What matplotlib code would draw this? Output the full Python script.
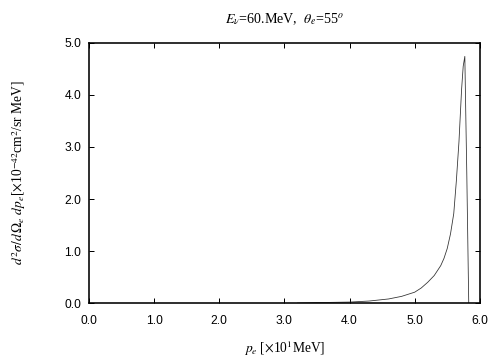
import numpy as np
import matplotlib
matplotlib.use("Agg")
import matplotlib.pyplot as plt

plt.rcParams['mathtext.fontset'] = 'stix'

# electron momentum [x10 MeV] and cross section [x10^-42 cm^2/sr MeV]
p_e = [3.2, 3.5, 4.0, 4.3, 4.6, 4.8, 5.0, 5.1, 5.2, 5.3, 5.4, 5.45, 5.5, 5.55,
       5.6, 5.64, 5.68, 5.72, 5.745, 5.77, 5.785, 5.80, 5.83]
xsec = [0.0, 0.01, 0.02, 0.04, 0.08, 0.13, 0.21, 0.29, 0.40, 0.53, 0.72, 0.86,
        1.05, 1.33, 1.72, 2.35, 3.1, 4.1, 4.55, 4.74, 3.6, 2.5, 0.0]

xticks = [0.0, 1.0, 2.0, 3.0, 4.0, 5.0, 6.0]
yticks = [0.0, 1.0, 2.0, 3.0, 4.0, 5.0]

fig = plt.figure(figsize=(7, 5), dpi=72)
ax = fig.add_axes([0.1766, 0.158, 0.7754, 0.723])

ax.plot(p_e, xsec, color='#333333', lw=0.8)

ax.set_xlim(0, 6)
ax.set_ylim(0, 5)
ax.set_xticks(xticks)
ax.set_yticks(yticks)
ax.set_xticklabels(["%.1f" % t for t in xticks], fontfamily='Liberation Sans', fontsize=12)
ax.set_yticklabels(["%.1f" % t for t in yticks], fontfamily='Liberation Sans', fontsize=12)
ax.tick_params(direction='in', top=True, right=True, length=5, width=1)
ax.tick_params(axis='x', pad=12)
ax.tick_params(axis='y', pad=8)
for s in ax.spines.values():
    s.set_linewidth(1.6)

ax.set_title(r"$E_\nu$=60.MeV,  $\theta_e$=55$^o$", fontfamily='Liberation Serif',
             fontsize=14, pad=20)
ax.set_xlabel(r"$p_e$ [$\times$10$^1$MeV]", fontfamily='Liberation Serif', fontsize=13.5,
              labelpad=11)
ax.set_ylabel(r"$d^2\sigma/d\,\Omega_e\ dp_e$[$\times$10$^{-42}$cm$^2$/sr MeV]",
              fontfamily='Liberation Serif', fontsize=13.5, labelpad=36)

fig.savefig("out.png", dpi=72)
